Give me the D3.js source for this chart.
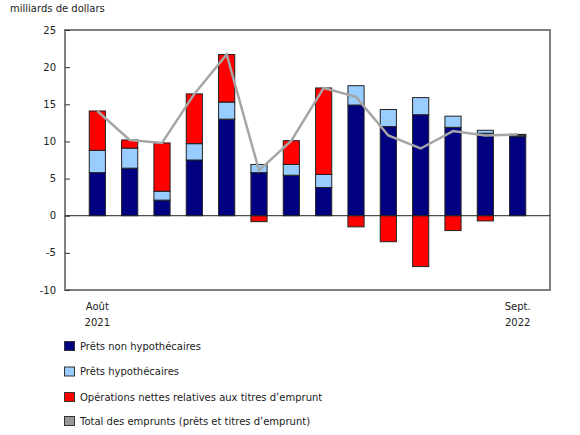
<!DOCTYPE html>
<html><head><meta charset="utf-8">
<script src="https://cdn.jsdelivr.net/npm/d3@7/dist/d3.min.js"></script>
<style>body{margin:0;background:#fff}svg{display:block}text{font-family:"DejaVu Sans",Verdana,sans-serif;font-size:10px;fill:#222}</style>
</head><body><svg id="c" width="580" height="435"></svg>
<script>
const months = ["Août 2021","Sept. 2021","Oct. 2021","Nov. 2021","Déc. 2021","Janv. 2022","Févr. 2022","Mars 2022","Avr. 2022","Mai 2022","Juin 2022","Juil. 2022","Août 2022","Sept. 2022"];
const nonHypo = [5.8, 6.4, 2.1, 7.5, 13.0, 5.8, 5.45, 3.8, 14.9, 12.0, 13.6, 11.9, 11.1, 10.65];
const hypo    = [3.0, 2.7, 1.2, 2.2, 2.3, 1.1, 1.45, 1.75, 2.6, 2.3, 2.3, 1.5, 0.4, 0.2];
const titres  = [5.3, 1.1, 6.5, 6.7, 6.4, -0.8, 3.2, 11.65, -1.5, -3.5, -6.85, -2.0, -0.7, 0.1];
const total   = [14.1, 10.2, 9.8, 16.4, 21.7, 6.1, 10.1, 17.2, 16.0, 10.8, 9.05, 11.4, 10.8, 10.95];
const yTicks = [-10, -5, 0, 5, 10, 15, 20, 25];
const xLabels = {0: ["Août", "2021"], 13: ["Sept.", "2022"]};
const seriesNames = ["Prêts non hypothécaires", "Prêts hypothécaires", "Opérations nettes relatives aux titres d’emprunt", "Total des emprunts (prêts et titres d’emprunt)"];
const colors = ["#000080", "#99ccff", "#ff0000", "#999999"];

const svg = d3.select("#c");
const L = 65, R = 550, T = 30, B = 290;
const x = d3.scaleBand().domain(d3.range(months.length)).range([L, R]).paddingInner(0.5).paddingOuter(0.75);
const y = d3.scaleLinear().domain([-10, 25]).range([B, T]);

svg.append("text").attr("x", 10).attr("y", 12).text("milliards de dollars");

// frame
svg.append("rect").attr("x", L).attr("y", T).attr("width", R - L).attr("height", B - T)
  .attr("fill", "none").attr("stroke", "#808080").attr("stroke-width", 2);

// y axis
const yAxis = svg.append("g").attr("transform", `translate(${L},0)`)
  .call(d3.axisRight(y).tickValues(yTicks).tickSize(5).tickFormat(""));
yAxis.select(".domain").remove();
yAxis.selectAll("line").attr("stroke", "#333");
svg.selectAll(".ylab").data(yTicks).enter().append("text")
  .attr("x", 56).attr("y", d => y(d) + 3.5).attr("text-anchor", "end").text(d => d);

// stacks
const data = months.map((m, i) => {
  const segs = [];
  let pos = 0, neg = 0;
  [nonHypo[i], hypo[i], titres[i]].forEach((v, k) => {
    if (v >= 0) { segs.push({k, y0: pos, y1: pos + v}); pos += v; }
    else { segs.push({k, y0: neg + v, y1: neg}); neg += v; }
  });
  return {i, segs};
});
const g = svg.append("g");
data.forEach(d => {
  g.selectAll(null).data(d.segs).enter().append("rect")
    .attr("x", x(d.i)).attr("width", x.bandwidth())
    .attr("y", s => y(s.y1)).attr("height", s => Math.max(0, y(s.y0) - y(s.y1)))
    .attr("fill", s => colors[s.k]).attr("stroke", "#222").attr("stroke-width", 1);
});

// zero line
svg.append("line").attr("x1", L).attr("x2", R).attr("y1", y(0)).attr("y2", y(0))
  .attr("stroke", "#222").attr("stroke-width", 1);

// total line
svg.append("path").datum(total)
  .attr("d", d3.line().x((v, i) => x(i) + x.bandwidth() / 2).y(v => y(v)))
  .attr("fill", "none").attr("stroke", "#a6a6a6").attr("stroke-width", 2.5);

// x labels
Object.entries(xLabels).forEach(([i, lines]) => {
  lines.forEach((t, j) => {
    svg.append("text").attr("x", x(+i) + x.bandwidth() / 2).attr("y", 310 + j * 16)
      .attr("text-anchor", "middle").text(t);
  });
});

// legend
const legY = [346, 371.5, 397, 421];
seriesNames.forEach((n, k) => {
  svg.append("rect").attr("x", 64.5).attr("y", legY[k] - 4.5).attr("width", 10).attr("height", 9)
    .attr("fill", colors[k]).attr("stroke", "#333");
  svg.append("text").attr("x", 80).attr("y", legY[k] + 3.5).text(n);
});
</script></body></html>
